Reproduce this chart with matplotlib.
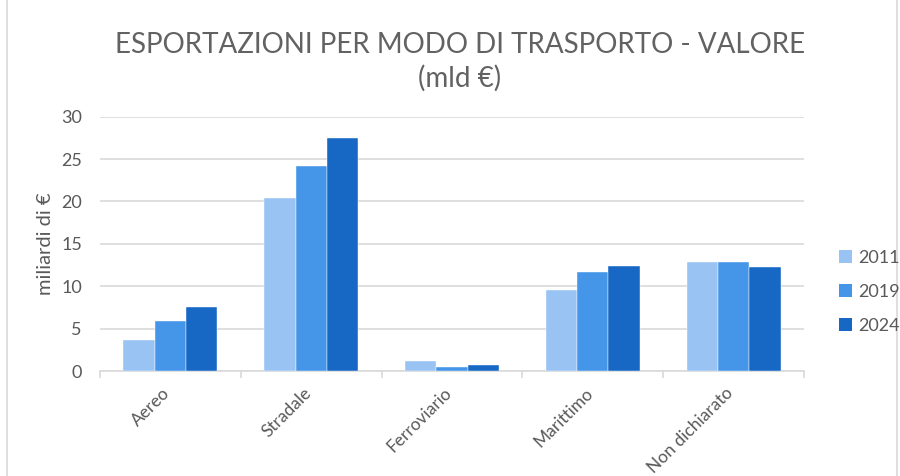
import matplotlib
matplotlib.use("Agg")
import matplotlib.pyplot as plt
import numpy as np
from matplotlib.lines import Line2D
from matplotlib.patches import Patch

categories = ["Aereo", "Stradale", "Ferroviario", "Marittimo", "Non dichiarato"]
series_names = ["2011", "2019", "2024"]
v2011 = [3.6, 20.4, 1.2, 9.6, 12.8]
v2019 = [5.9, 24.2, 0.5, 11.7, 12.9]
v2024 = [7.6, 27.5, 0.7, 12.4, 12.3]
yticks = [0, 5, 10, 15, 20, 25, 30]
colors = ["#99C3F3", "#4595E8", "#1767C4"]

plt.rcParams['font.family'] = ['Lato', 'DejaVu Sans']
txt = "#595959"

fig = plt.figure(figsize=(9, 4.76), dpi=100)
ax = fig.add_axes([100/900, 1-371/476, 704/900, (371-116.7)/476])

x = np.arange(len(categories))
w = 1/4.5
for i, (vals, name) in enumerate(zip([v2011, v2019, v2024], series_names)):
    ax.bar(x + (i-1)*w, vals, width=w, color=colors[i], label=name, zorder=3,
           edgecolor='white', linewidth=0.3)

ax.set_xlim(-0.5, len(categories)-0.5)
ax.set_ylim(0, 30)
ax.set_yticks(yticks)
ax.set_yticklabels([str(t) for t in yticks], fontsize=13, color=txt)
ax.tick_params(axis='y', length=0, pad=13)
ax.yaxis.grid(True, color="#D9D9D9", linewidth=1.2, zorder=0)
ax.set_axisbelow(True)
for s in ['top', 'right', 'left']:
    ax.spines[s].set_visible(False)
ax.spines['bottom'].set_color("#D9D9D9")
ax.spines['bottom'].set_linewidth(1.2)

ax.set_xticks(np.arange(len(categories)+1) - 0.5, minor=False)
ax.set_xticklabels([])
ax.tick_params(axis='x', length=5, color="#D9D9D9", width=1.2)
for xi, c in zip(x, categories):
    ax.annotate(c, xy=(xi, 0), xycoords=('data', 'axes fraction'),
                xytext=(-6, -10), textcoords='offset points',
                rotation=45, ha='right', va='top', rotation_mode='anchor',
                fontsize=12.5, color=txt)

ax.set_ylabel("miliardi di €", fontsize=14.5, color=txt, labelpad=5)

fig.text(0.511, 1-45/476, "ESPORTAZIONI PER MODO DI TRASPORTO - VALORE",
         ha='center', va='center', fontsize=20, color="#626262")
fig.text(0.511, 1-78/476, "(mld €)", ha='center', va='center', fontsize=20,
         color="#626262")

handles = [Patch(facecolor=c, edgecolor='none') for c in colors]
fig.legend(handles, series_names, loc='center left', bbox_to_anchor=(823/900, 1-292/476),
           frameon=False, fontsize=13, labelcolor=txt, handlelength=0.7,
           handleheight=0.7, handletextpad=0.35, labelspacing=1.0)

fig.add_artist(Line2D([7/900, 7/900], [0, 1], color="#D9D9D9", linewidth=1.2))
fig.add_artist(Line2D([897/900, 897/900], [0, 1], color="#D9D9D9", linewidth=1.2))

fig.savefig("out.png", dpi=100)
